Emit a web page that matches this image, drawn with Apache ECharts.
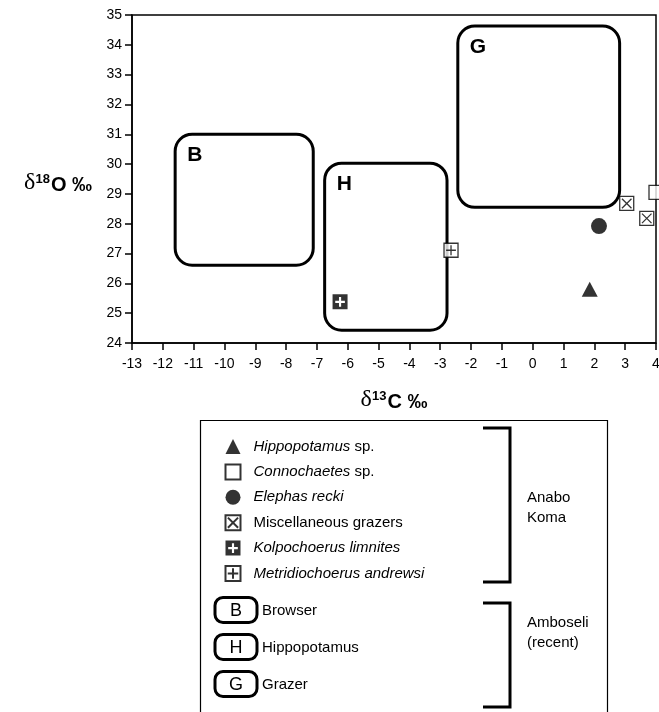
<!DOCTYPE html>
<html>
<head>
<meta charset="utf-8">
<script src="https://cdn.jsdelivr.net/npm/echarts@6/dist/echarts.min.js"></script>
<style>
html,body{margin:0;padding:0;background:#fff;}
#chart{width:659px;height:712px;}
</style>
</head>
<body>
<div id="chart"></div>
<script>
// ---- data ----
const hippoX = [1.85];        const hippoY = [25.8];
const connX = [4.0];          const connY = [29.05];
const elephasX = [2.15];      const elephasY = [27.92];
const miscX = [3.05, 3.7];    const miscY = [28.68, 28.18];
const kolpoX = [-6.25];       const kolpoY = [25.38];
const metriX = [-2.65];       const metriY = [27.11];

// Amboseli (recent) ranges: B browser, H hippopotamus, G grazer
const boxLabels = ['B', 'H', 'G'];
const boxXMin = [-11.6, -6.75, -2.43];
const boxXMax = [-7.12, -2.78, 2.82];
const boxYMin = [26.61, 24.43, 28.55];
const boxYMax = [31.0, 30.03, 34.63];
const boxNames = ['Browser', 'Hippopotamus', 'Grazer'];

const seriesNames = ['Hippopotamus sp.', 'Connochaetes sp.', 'Elephas recki',
  'Miscellaneous grazers', 'Kolpochoerus limnites', 'Metridiochoerus andrewsi'];

const xTickMin = -13, xTickMax = 4;
const yTickMin = 24, yTickMax = 35;

const FONT = '"Liberation Sans", Arial, Helvetica, sans-serif';
const SERIF = '"Liberation Serif", "Times New Roman", serif';

function pts(xs, ys) { return xs.map((x, i) => [x, ys[i]]); }

const boxedX = 'path://M0,0L10,0L10,10L0,10Z M1.6,1.6L8.4,8.4 M8.4,1.6L1.6,8.4';
const boxedPlus = 'path://M0,0L10,0L10,10L0,10Z M5,1.5L5,8.5 M1.5,5L8.5,5';
const blackPlus = 'path://M0,0L14,0L14,14L0,14Z M6,2.5L6,6L2.5,6L2.5,8L6,8L6,11.5L8,11.5L8,8L11.5,8L11.5,6L8,6L8,2.5Z';

const chart = echarts.init(document.getElementById('chart'), null, {renderer: 'canvas'});

const legendFormatter = function (name) {
  switch (name) {
    case 'Hippopotamus sp.': return '{i|Hippopotamus} sp.';
    case 'Connochaetes sp.': return '{i|Connochaetes} sp.';
    case 'Elephas recki': return '{i|Elephas recki}';
    case 'Kolpochoerus limnites': return '{i|Kolpochoerus limnites}';
    case 'Metridiochoerus andrewsi': return '{i|Metridiochoerus andrewsi}';
    default: return name;
  }
};

const titleRich = {
  d: {fontFamily: SERIF, fontSize: 24, color: '#000', verticalAlign: 'bottom'},
  s: {fontFamily: FONT, fontSize: 13, fontWeight: 'bold', color: '#000', verticalAlign: 'bottom', padding: [0, 1, 9, 0]},
  b: {fontFamily: FONT, fontSize: 20, fontWeight: 'bold', color: '#000', verticalAlign: 'bottom'}
};

const graphics = [
  // legend frame
  {type: 'rect', left: 198, top: 418, shape: {x: 0, y: 0, width: 407, height: 320},
   style: {fill: 'none', stroke: '#000', lineWidth: 1.2}, z: 1},
  // brackets
  {type: 'polyline', shape: {points: [[483, 428], [510, 428], [510, 582], [483, 582]]},
   style: {fill: 'none', stroke: '#000', lineWidth: 3}},
  {type: 'polyline', shape: {points: [[483, 603], [510, 603], [510, 707], [483, 707]]},
   style: {fill: 'none', stroke: '#000', lineWidth: 3}},
  {type: 'text', left: 527, top: 488, style: {text: 'Anabo\nKoma', font: '15px ' + FONT, fill: '#000', lineHeight: 20}},
  {type: 'text', left: 527, top: 613, style: {text: 'Amboseli\n(recent)', font: '15px ' + FONT, fill: '#000', lineHeight: 20}}
];
boxLabels.forEach(function (lab, i) {
  const cy = 610 + i * 37;
  graphics.push({type: 'rect', shape: {x: 215, y: cy - 12.5, width: 42, height: 25, r: 8},
    style: {fill: '#fff', stroke: '#000', lineWidth: 3}});
  graphics.push({type: 'text', x: 236, y: cy + 1, style: {text: lab, font: '18px ' + FONT, fill: '#000', align: 'center', verticalAlign: 'middle'}});
  graphics.push({type: 'text', x: 262, y: cy + 1, style: {text: boxNames[i], font: '15px ' + FONT, fill: '#000', verticalAlign: 'middle'}});
});

const option = {
  backgroundColor: '#fff',
  animation: false,
  textStyle: {fontFamily: FONT},
  grid: {left: 132, right: 3, top: 15, bottom: 369, show: true, borderColor: '#000', borderWidth: 1.5,
         containLabel: false, outerBoundsMode: 'none'},
  xAxis: {
    type: 'value', min: xTickMin, max: xTickMax, interval: 1,
    splitLine: {show: false},
    axisLine: {show: true, onZero: false, lineStyle: {color: '#000', width: 1.5}},
    axisTick: {show: true, length: 7, lineStyle: {color: '#000', width: 1.5}},
    axisLabel: {color: '#000', fontSize: 14, fontFamily: FONT, margin: 14},
    name: '{d|δ}{s|13}{b|C ‰}', nameLocation: 'middle', nameGap: 45,
    nameTextStyle: {rich: titleRich}
  },
  yAxis: {
    type: 'value', min: yTickMin, max: yTickMax, interval: 1,
    splitLine: {show: false},
    axisLine: {show: true, onZero: false, lineStyle: {color: '#000', width: 1.5}},
    axisTick: {show: true, length: 7, lineStyle: {color: '#000', width: 1.5}},
    axisLabel: {color: '#000', fontSize: 14, fontFamily: FONT, margin: 10},
    name: '{d|δ}{s|18}{b|O ‰}', nameLocation: 'middle', nameRotate: 0, nameGap: 40,
    nameTextStyle: {padding: [8, 0, 0, 0], rich: titleRich}
  },
  legend: {
    orient: 'vertical', left: 224.5, top: 439, padding: 0,
    itemWidth: 15, itemHeight: 15, itemGap: 9.4,
    selectedMode: false,
    data: seriesNames,
    formatter: legendFormatter,
    textStyle: {
      color: '#000', fontSize: 15, fontFamily: FONT, lineHeight: 15, padding: [0, 0, 0, 8],
      rich: {i: {fontStyle: 'italic', fontSize: 15, fontFamily: FONT, color: '#000', lineHeight: 15}}
    }
  },
  graphic: graphics,
  series: [
    {
      type: 'custom', name: 'Amboseli ranges', z: 1, clip: false,
      data: boxLabels.map((l, i) => [boxXMin[i], boxXMax[i], boxYMin[i], boxYMax[i]]),
      encode: {x: [0, 1], y: [2, 3]},
      renderItem: function (params, api) {
        const p1 = api.coord([api.value(0), api.value(3)]);
        const p2 = api.coord([api.value(1), api.value(2)]);
        return {
          type: 'group',
          children: [
            {type: 'rect', shape: {x: p1[0], y: p1[1], width: p2[0] - p1[0], height: p2[1] - p1[1], r: 17},
             style: {fill: 'none', stroke: '#000', lineWidth: 3}},
            {type: 'text', x: p1[0] + 12, y: p1[1] + 21,
             style: {text: boxLabels[params.dataIndex], font: 'bold 21px ' + FONT, fill: '#000', verticalAlign: 'middle'}}
          ]
        };
      }
    },
    {type: 'scatter', name: seriesNames[0], data: pts(hippoX, hippoY), symbol: 'triangle', symbolSize: [16, 15],
     itemStyle: {color: '#000'}, clip: false, z: 3},
    {type: 'scatter', name: seriesNames[1], data: pts(connX, connY), symbol: 'rect', symbolSize: 14,
     itemStyle: {color: '#fff', borderColor: '#000', borderWidth: 1.3}, clip: false, z: 3},
    {type: 'scatter', name: seriesNames[2], data: pts(elephasX, elephasY), symbol: 'circle', symbolSize: 16,
     itemStyle: {color: '#000'}, clip: false, z: 3},
    {type: 'scatter', name: seriesNames[3], data: pts(miscX, miscY), symbol: boxedX, symbolSize: 14,
     itemStyle: {color: '#fff', borderColor: '#000', borderWidth: 1.3}, clip: false, z: 3},
    {type: 'scatter', name: seriesNames[4], data: pts(kolpoX, kolpoY), symbol: blackPlus, symbolSize: 15,
     itemStyle: {color: '#000'}, clip: false, z: 3},
    {type: 'scatter', name: seriesNames[5], data: pts(metriX, metriY), symbol: boxedPlus, symbolSize: 14,
     itemStyle: {color: '#fff', borderColor: '#000', borderWidth: 1.3}, clip: false, z: 3}
  ]
};
chart.setOption(option);
</script>
</body>
</html>
